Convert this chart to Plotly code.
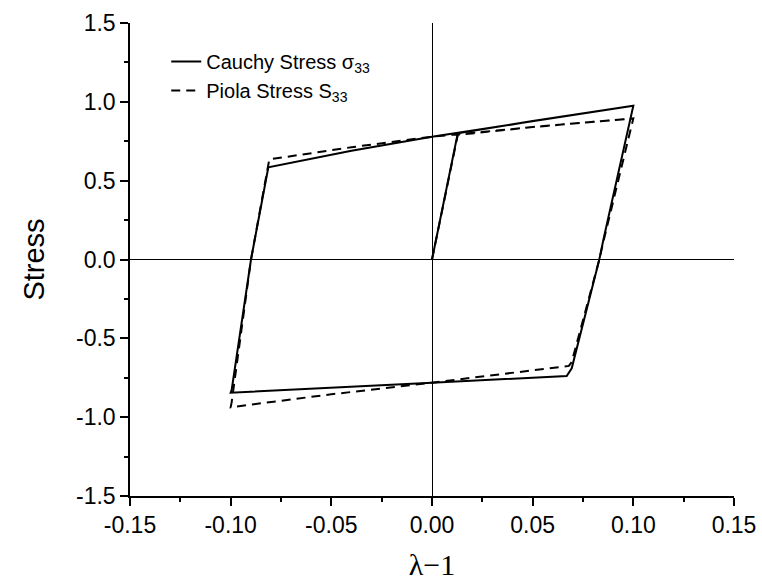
import plotly.graph_objects as go

# Strain path (lambda - 1) and stress for the cyclic loading loop
cauchy_x = [0.0, 0.0128, 0.05, 0.100, 0.0851, 0.0831, 0.0694, 0.0669,
            0.0, -0.05, -0.100, -0.0995, -0.0899, -0.0813, -0.04, 0.0, 0.05, 0.100]
cauchy_y = [0.0, 0.800, 0.878, 0.975, 0.124, 0.0, -0.690, -0.739,
            -0.781, -0.815, -0.845, -0.827, 0.0, 0.585, 0.690, 0.779, 0.878, 0.975]

piola_x = [0.0, 0.0128, 0.05, 0.100, 0.0851, 0.0831, 0.0694, 0.068,
           0.0, -0.05, -0.100, -0.0995, -0.0899, -0.0808, -0.04, 0.0, 0.05, 0.100]
piola_y = [0.0, 0.790, 0.840, 0.895, 0.112, 0.0, -0.650, -0.675,
           -0.781, -0.855, -0.937, -0.905, 0.0, 0.635, 0.712, 0.779, 0.840, 0.895]

x_ticks = [-0.15, -0.10, -0.05, 0.0, 0.05, 0.10, 0.15]
x_labels = ["-0.15", "-0.10", "-0.05", "0.00", "0.05", "0.10", "0.15"]
y_ticks = [-1.5, -1.0, -0.5, 0.0, 0.5, 1.0, 1.5]
y_labels = ["-1.5", "-1.0", "-0.5", "0.0", "0.5", "1.0", "1.5"]

SANS = "Arial, Liberation Sans, sans-serif"
SERIF = "Times New Roman, Liberation Serif, serif"

fig = go.Figure()
fig.add_trace(go.Scatter(
    x=cauchy_x, y=cauchy_y, mode="lines",
    name="Cauchy Stress σ<sub>33</sub>",
    line=dict(color="black", width=2),
))
fig.add_trace(go.Scatter(
    x=piola_x, y=piola_y, mode="lines",
    name="Piola Stress S<sub>33</sub>",
    line=dict(color="black", width=2, dash="9px,6px"),
))

axis_common = dict(
    showline=True, linecolor="black", linewidth=1.5,
    ticks="outside", tickcolor="black", tickwidth=1.5, ticklen=8,
    showgrid=False, automargin=False,
    zeroline=True, zerolinecolor="black", zerolinewidth=1,
    tickfont=dict(family=SANS, size=23, color="black"),
)

fig.update_xaxes(
    range=[-0.15, 0.15], tickvals=x_ticks, ticktext=x_labels,
    minor=dict(ticks="outside", dtick=0.025, ticklen=4, tickcolor="black", tickwidth=1.5),
    title=dict(text="λ−1", font=dict(family=SERIF, size=30, color="black"), standoff=17),
    **axis_common,
)
fig.update_yaxes(
    range=[-1.5, 1.5], tickvals=y_ticks, ticktext=y_labels,
    minor=dict(ticks="outside", dtick=0.25, ticklen=4, tickcolor="black", tickwidth=1.5),
    title=dict(text="Stress", font=dict(family=SANS, size=29, color="black"), standoff=23),
    **axis_common,
)

fig.update_layout(
    width=762, height=587,
    margin=dict(l=130, r=28, t=23, b=91),
    plot_bgcolor="white", paper_bgcolor="white",
    showlegend=True,
    legend=dict(
        x=0.06, y=0.96, xanchor="left", yanchor="top",
        bgcolor="rgba(0,0,0,0)",
        font=dict(family=SANS, size=20, color="black"),
        tracegroupgap=0, itemwidth=30,
    ),
)

fig.write_html("out.html")
